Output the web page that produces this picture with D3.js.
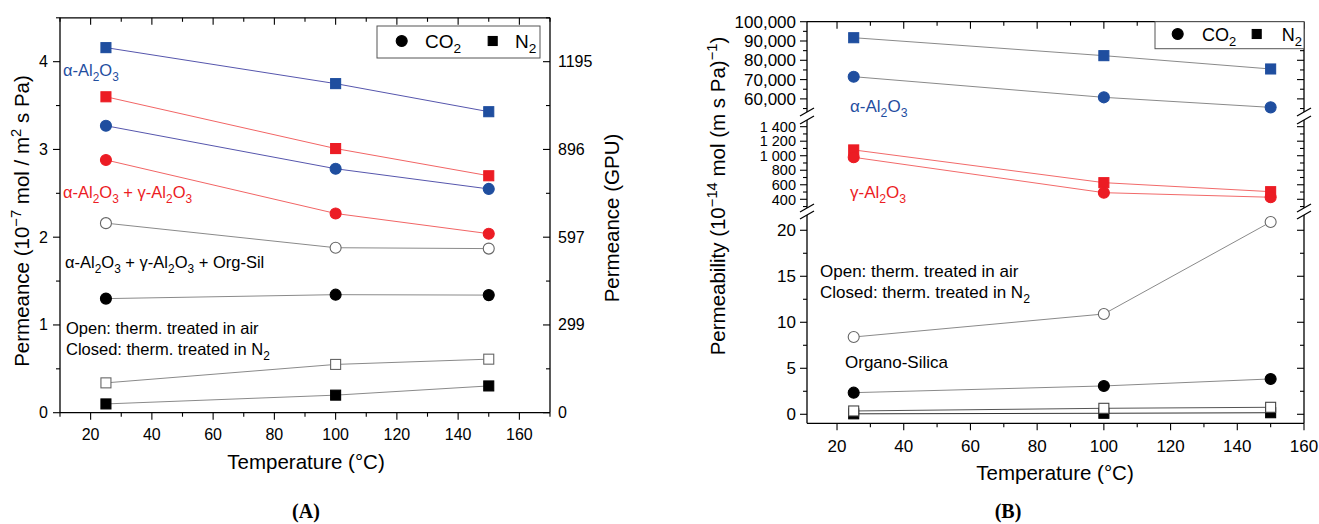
<!DOCTYPE html>
<html><head><meta charset="utf-8">
<script src="https://cdn.jsdelivr.net/npm/d3@7"></script>
<style>
html,body{margin:0;padding:0;background:#fff;}
svg{display:block;font-family:"Liberation Sans",Arial,sans-serif;}
</style></head>
<body>
<svg id="chart" width="1319" height="524"></svg>
<script>
// ---------------- DATA ----------------
const temps = [25, 100, 150];

// Panel A: permeance (1e-7 mol / m2 s Pa)
const aAlphaCO2 = [3.27, 2.78, 2.55];
const aAlphaN2  = [4.16, 3.75, 3.43];
const aGammaCO2 = [2.88, 2.27, 2.04];
const aGammaN2  = [3.60, 3.01, 2.70];
const aOrgAirCO2 = [2.16, 1.88, 1.87];
const aOrgNitCO2 = [1.30, 1.345, 1.34];
const aOrgAirN2  = [0.34, 0.55, 0.61];
const aOrgNitN2  = [0.10, 0.20, 0.305];

// Panel B: permeability (1e-14 mol (m s Pa)^-1)
const bAlphaCO2 = [71500, 60800, 55600];
const bAlphaN2  = [91700, 82400, 75500];
const bGammaCO2 = [978, 491, 428];
const bGammaN2  = [1080, 629, 505];
const bOrgAirCO2 = [8.4, 10.9, 20.9];
const bOrgNitCO2 = [2.35, 3.08, 3.84];
const bOrgAirN2  = [0.36, 0.65, 0.76];
const bOrgNitN2  = [0.05, 0.11, 0.17];

// Tick values / labels
const xTicksMajor = [20, 40, 60, 80, 100, 120, 140, 160];
const aYTicks = [0, 1, 2, 3, 4];
const aGpuTicks = [0, 299, 597, 896, 1195];
const gpuPerUnit = 298.75;
const bSeg1Ticks = [0, 5, 10, 15, 20];
const bSeg2Ticks = [400, 600, 800, 1000, 1200, 1400];
const bSeg2Labels = ["400", "600", "800", "1 000", "1 200", "1 400"];
const bSeg3Ticks = [60000, 70000, 80000, 90000, 100000];
const bSeg3Labels = ["60,000", "70,000", "80,000", "90,000", "100,000"];

// Texts
const aYTitle = "Permeance (10^{−7} mol / m^{2} s Pa)";
const aY2Title = "Permeance (GPU)";
const bYTitle = "Permeability (10^{−14} mol (m s Pa)^{−1})";
const xTitle = "Temperature (°C)";
const lblAlpha = "α-Al_{2}O_{3}";
const lblAlphaGamma = "α-Al_{2}O_{3} + γ-Al_{2}O_{3}";
const lblAll = "α-Al_{2}O_{3} + γ-Al_{2}O_{3} + Org-Sil";
const lblGamma = "γ-Al_{2}O_{3}";
const lblOrgano = "Organo-Silica";
const lblOpen = "Open: therm. treated in air";
const lblClosed = "Closed: therm. treated in N_{2}";
const legCO2 = "CO_{2}";
const legN2 = "N_{2}";

// ---------------- HELPERS ----------------
const BLUE = "#1f4e9f", RED = "#ec1c24";
const svg = d3.select("#chart");

function parse(str) {
  const out = [];
  const re = /(\^\{[^}]*\}|_\{[^}]*\})/g;
  let last = 0, m;
  while ((m = re.exec(str)) !== null) {
    if (m.index > last) out.push([str.slice(last, m.index), "n"]);
    out.push([m[0].slice(2, -1), m[0][0] === "^" ? "sup" : "sub"]);
    last = m.index + m[0].length;
  }
  if (last < str.length) out.push([str.slice(last), "n"]);
  return out;
}
function rich(textSel, str, fs) {
  let shift = 0;
  parse(str).forEach(([t, mode]) => {
    const target = mode === "sub" ? fs * 0.28 : mode === "sup" ? -fs * 0.4 : 0;
    textSel.append("tspan")
      .attr("dy", target - shift)
      .attr("font-size", mode === "n" ? fs : fs * 0.72)
      .text(t);
    shift = target;
  });
  return textSel;
}
function label(g, x, y, str, fs, color, anchor, rot) {
  const t = g.append("text").attr("x", x).attr("y", y)
    .attr("fill", color || "#000").attr("font-size", fs)
    .attr("text-anchor", anchor || "start");
  if (rot) t.attr("transform", `rotate(${rot},${x},${y})`);
  rich(t, str, fs);
  return t;
}
function marker(g, x, y, shape, fill, stroke, size) {
  if (shape === "circle") {
    g.append("circle").attr("cx", x).attr("cy", y).attr("r", size / 2 + 0.5)
      .attr("fill", fill).attr("stroke", stroke).attr("stroke-width", 1.1);
  } else {
    g.append("rect").attr("x", x - size / 2).attr("y", y - size / 2)
      .attr("width", size).attr("height", size)
      .attr("fill", fill).attr("stroke", stroke).attr("stroke-width", 1.1);
  }
}
function series(g, xs, ys, vals, shape, fill, stroke, lineColor) {
  const line = d3.line().x((d, i) => xs(temps[i])).y(d => ys(d));
  g.append("path").datum(vals).attr("d", line).attr("fill", "none")
    .attr("stroke", lineColor).attr("stroke-width", 1);
  return () => vals.forEach((v, i) => marker(g, xs(temps[i]), ys(v), shape, fill, stroke, 10));
}
function hline(g, x1, x2, y) {
  g.append("line").attr("x1", x1).attr("x2", x2).attr("y1", y).attr("y2", y)
    .attr("stroke", "#000").attr("stroke-width", 1.3);
}
function vline(g, x, y1, y2) {
  g.append("line").attr("x1", x).attr("x2", x).attr("y1", y1).attr("y2", y2)
    .attr("stroke", "#000").attr("stroke-width", 1.3);
}
function tick(g, x1, y1, x2, y2) {
  g.append("line").attr("x1", x1).attr("y1", y1).attr("x2", x2).attr("y2", y2)
    .attr("stroke", "#000").attr("stroke-width", 1.1);
}

// ---------------- PANEL A ----------------
(function () {
  const g = svg.append("g");
  const L = 60, R = 550, T = 17.8, B = 412.7;
  const x = d3.scaleLinear().domain([10, 170]).range([L, R]);
  const y = d3.scaleLinear().domain([0, 4.5]).range([B, T]);
  const y2 = d3.scaleLinear().domain([0, 4.5 * gpuPerUnit]).range([B, T]);

  // series lines then markers
  const LB = "#5656ad", LR = "#f26565", LG = "#8a8a8a";
  const draws = [
    series(g, x, y, aAlphaN2, "square", BLUE, BLUE, LB),
    series(g, x, y, aGammaN2, "square", RED, RED, LR),
    series(g, x, y, aAlphaCO2, "circle", BLUE, BLUE, LB),
    series(g, x, y, aGammaCO2, "circle", RED, RED, LR),
    series(g, x, y, aOrgAirCO2, "circle", "#fff", "#666", LG),
    series(g, x, y, aOrgNitCO2, "circle", "#000", "#000", LG),
    series(g, x, y, aOrgAirN2, "square", "#fff", "#666", LG),
    series(g, x, y, aOrgNitN2, "square", "#000", "#000", LG)
  ];
  draws.forEach(d => d());

  // frame
  hline(g, L, R, B); hline(g, L, R, T); vline(g, L, T, B); vline(g, R, T, B);
  // x ticks
  d3.range(10, 171, 10).forEach(v => {
    const major = v % 20 === 0;
    const len = major ? 7 : 4;
    tick(g, x(v), B, x(v), B + len);
    tick(g, x(v), T, x(v), T + len);
  });
  xTicksMajor.forEach(v => {
    g.append("text").attr("x", x(v)).attr("y", 440).attr("text-anchor", "middle")
      .attr("font-size", 16).text(v);
  });
  // left y ticks
  d3.range(0, 4.51, 0.5).forEach(v => {
    const major = Math.abs(v - Math.round(v)) < 1e-6;
    tick(g, L, y(v), L - (major ? 7 : 4), y(v));
    tick(g, R, y(v), R - (major ? 7 : 4), y(v));
  });
  aYTicks.forEach(v => {
    g.append("text").attr("x", L - 12).attr("y", y(v) + 5.5).attr("text-anchor", "end")
      .attr("font-size", 16).text(v);
  });
  aGpuTicks.forEach(v => {
    g.append("text").attr("x", R + 8).attr("y", y2(v) + 5.5).attr("text-anchor", "start")
      .attr("font-size", 16).text(v);
  });

  // titles
  label(g, 306, 469, xTitle, 20.5, "#000", "middle");
  label(g, 29, 221, aYTitle, 20.5, "#000", "middle", -90);
  label(g, 619, 218, aY2Title, 20.5, "#000", "middle", -90);

  // annotations
  label(g, 63, 76, lblAlpha, 16.5, BLUE);
  label(g, 63, 198, lblAlphaGamma, 16.5, RED);
  label(g, 65, 268, lblAll, 16.5, "#000");
  label(g, 66, 334, lblOpen, 16.5, "#000");
  label(g, 66, 355, lblClosed, 16.5, "#000");

  // legend
  g.append("rect").attr("x", 377).attr("y", 26).attr("width", 163).attr("height", 32)
    .attr("fill", "#fff").attr("stroke", "#555").attr("stroke-width", 1);
  marker(g, 401.7, 41, "circle", "#000", "#000", 10);
  label(g, 425, 48, legCO2, 19, "#000");
  marker(g, 492.7, 41, "square", "#000", "#000", 9);
  label(g, 515, 48, legN2, 19, "#000");

  g.append("text").attr("x", 306).attr("y", 518).attr("text-anchor", "middle")
    .attr("font-family", "Liberation Serif, Times New Roman, serif")
    .attr("font-weight", "bold").attr("font-size", 20).text("(A)");
})();

// ---------------- PANEL B ----------------
(function () {
  const g = svg.append("g");
  const L = 807, R = 1304, T = 21.7, B = 423.3;
  const x = d3.scaleLinear().domain([11, 160]).range([L, R]);
  const s1 = d3.scaleLinear().domain([-0.98, 21.66]).range([B, 215]);
  const s2 = d3.scaleLinear().domain([280, 1492]).range([208, 120]);
  const s3 = d3.scaleLinear().domain([53200, 100000]).range([112, T]);
  const y = v => v >= 20000 ? s3(v) : v >= 250 ? s2(v) : s1(v);

  const LR = "#f26a6a", LG = "#8a8a8a";
  const draws = [
    series(g, x, y, bAlphaN2, "square", BLUE, BLUE, LG),
    series(g, x, y, bAlphaCO2, "circle", BLUE, BLUE, LG),
    series(g, x, y, bGammaN2, "square", RED, RED, LR),
    series(g, x, y, bGammaCO2, "circle", RED, RED, LR),
    series(g, x, y, bOrgAirCO2, "circle", "#fff", "#666", LG),
    series(g, x, y, bOrgNitCO2, "circle", "#000", "#000", LG),
    series(g, x, y, bOrgNitN2, "square", "#000", "#000", "#333"),
    series(g, x, y, bOrgAirN2, "square", "#fff", "#444", "#555")
  ];
  draws.forEach(d => d());

  // frame: top, bottom, broken left & right
  hline(g, L, R, B); hline(g, L, R, T);
  const segs = [[T, 112], [120, 208], [215, B]];
  [L, R].forEach(ax => {
    segs.forEach(([a, b]) => vline(g, ax, a, b));
    [112, 120, 208, 215].forEach(yy => {
      g.append("line").attr("x1", ax - 7).attr("y1", yy + 4).attr("x2", ax + 7).attr("y2", yy - 4)
        .attr("stroke", "#000").attr("stroke-width", 1.3);
    });
  });

  // x ticks
  d3.range(20, 161, 10).forEach(v => {
    const major = v % 20 === 0;
    const len = major ? 7 : 4;
    tick(g, x(v), B, x(v), B + len);
    tick(g, x(v), T, x(v), T + len);
  });
  xTicksMajor.forEach(v => {
    g.append("text").attr("x", x(v)).attr("y", 452).attr("text-anchor", "middle")
      .attr("font-size", 17).text(v);
  });

  // y ticks per segment
  const yt = (scale, majors, minors, labels, fs) => {
    majors.forEach((v, i) => {
      tick(g, L, scale(v), L - 7, scale(v));
      tick(g, R, scale(v), R - 7, scale(v));
      g.append("text").attr("x", L - 11).attr("y", scale(v) + fs * 0.36)
        .attr("text-anchor", "end").attr("font-size", fs).text(labels[i]);
    });
    minors.forEach(v => {
      tick(g, L, scale(v), L - 4, scale(v));
      tick(g, R, scale(v), R - 4, scale(v));
    });
  };
  yt(s1, bSeg1Ticks, [2.5, 7.5, 12.5, 17.5], bSeg1Ticks.map(String), 17);
  yt(s2, bSeg2Ticks, [300, 500, 700, 900, 1100, 1300], bSeg2Labels, 14.5);
  yt(s3, bSeg3Ticks, [55000, 65000, 75000, 85000, 95000], bSeg3Labels, 17);

  // titles
  label(g, 1055, 480, xTitle, 20.5, "#000", "middle");
  label(g, 725, 196, bYTitle, 20.5, "#000", "middle", -90);

  // annotations
  label(g, 850, 112, lblAlpha, 17, BLUE);
  label(g, 850, 198, lblGamma, 17, RED);
  label(g, 820, 277, lblOpen, 17, "#000");
  label(g, 820, 298, lblClosed, 17, "#000");
  label(g, 845, 368, lblOrgano, 17, "#000");

  // legend
  g.append("rect").attr("x", 1155).attr("y", T).attr("width", 149).attr("height", 27)
    .attr("fill", "#fff").attr("stroke", "#555").attr("stroke-width", 1);
  marker(g, 1177.7, 34, "circle", "#000", "#000", 10);
  label(g, 1202, 41, legCO2, 18, "#000");
  marker(g, 1256.7, 34, "square", "#000", "#000", 9);
  label(g, 1281.7, 41, legN2, 18, "#000");

  g.append("text").attr("x", 1008).attr("y", 518).attr("text-anchor", "middle")
    .attr("font-family", "Liberation Serif, Times New Roman, serif")
    .attr("font-weight", "bold").attr("font-size", 20).text("(B)");
})();
</script>
</body></html>
